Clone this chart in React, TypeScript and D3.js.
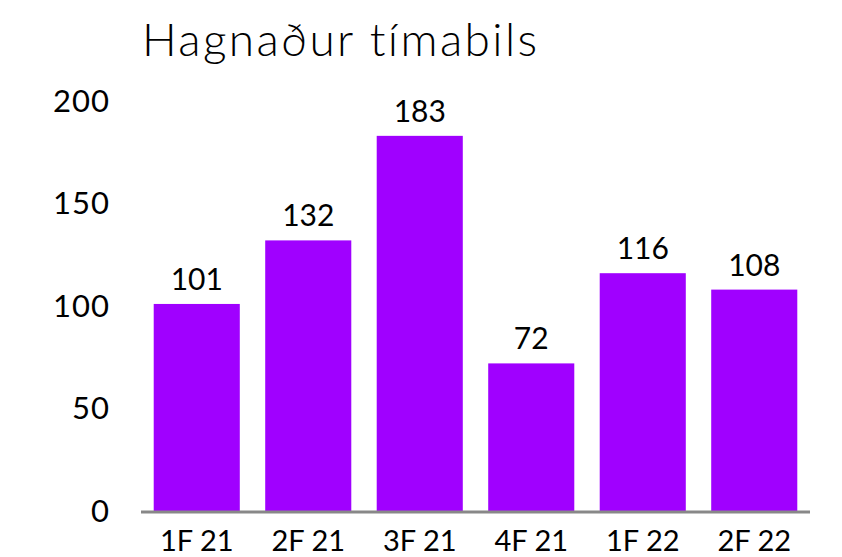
import * as d3 from "d3";

const categories = ["1F 21", "2F 21", "3F 21", "4F 21", "1F 22", "2F 22"];
const values = [101, 132, 183, 72, 116, 108];
const yTicks = [0, 50, 100, 150, 200];
const title = "Hagnaður tímabils";

const W = 842;
const H = 557;
const FONT = "Lato, 'DejaVu Sans', sans-serif";

export default function App() {
  const x = d3.scaleBand<string>().domain(categories).range([141, 810]).paddingInner(0.228).paddingOuter(0.114);
  const y = d3.scaleLinear().domain([0, 200]).range([511, 101]);

  return (
    <svg
      width={W}
      height={H}
      style={{ position: "absolute", left: 0, top: 0, background: "#fff" }}
      fontFamily={FONT}
    >
      <text x={142} y={56} fontSize={46} fill="#000" letterSpacing={2.4} fontWeight={300}>
        {title}
      </text>

      {yTicks.map((t) => (
        <text key={t} x={110} y={y(t)} dy="0.35em" textAnchor="end" fontSize={31} fill="#000" letterSpacing={1}>
          {t}
        </text>
      ))}

      {categories.map((c, i) => (
        <g key={c}>
          <rect x={x(c)} y={y(values[i])} width={x.bandwidth()} height={y(0) - y(values[i])} fill="#a000ff" />
          <text
            x={(x(c) ?? 0) + x.bandwidth() / 2}
            y={y(values[i]) - 14}
            textAnchor="middle"
            fontSize={30}
            fill="#000"
          >
            {values[i]}
          </text>
          <text x={(x(c) ?? 0) + x.bandwidth() / 2} y={551} textAnchor="middle" fontSize={29} fill="#000">
            {c}
          </text>
        </g>
      ))}

      <line x1={141} x2={810} y1={y(0) + 1} y2={y(0) + 1} stroke="#888" strokeWidth={3} />
    </svg>
  );
}
